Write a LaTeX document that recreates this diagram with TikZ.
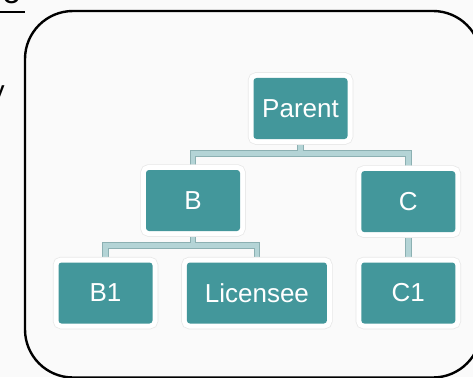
\documentclass[tikz,border=0pt]{standalone}
\usepackage{fontspec}
\setmainfont{Liberation Sans}
\usetikzlibrary{positioning,backgrounds}

\definecolor{boxteal}{RGB}{67,151,155}
\definecolor{linkfill}{RGB}{180,212,214}
\definecolor{linkedge}{RGB}{140,176,178}
\definecolor{paper}{RGB}{250,250,250}

\begin{document}
\begin{tikzpicture}[
    x=1pt,y=-1pt,
    node distance=30pt and 34pt,
    unit/.style={fill=boxteal,text=white,rounded corners=3pt,
      minimum width=94pt,minimum height=61pt,inner sep=0pt,
      font=\fontsize{26}{30}\selectfont,
      preaction={draw=black!9,line width=11.5pt},
      preaction={draw=white,line width=10pt}},
    linkrim/.style={draw=linkedge,line width=6.5pt},
    link/.style={draw=linkfill,line width=4.5pt},
    frame/.style={rounded corners=48pt,line width=2.4pt}]
  \useasboundingbox (0,0) rectangle (473,377);
  \clip (0,0) rectangle (473,377);

  % the tree
  \node[unit] (parent) at (300.5,108.5) {Parent};
  \node[unit] (b) at (193,200.5) {B};
  \node[unit] (b1) at (105.5,293) {B1};
  \node[unit,right=of b1,minimum width=140pt] (lic) {Licensee};
  \node[unit,right=of lic] (c1) {C1};
  \node[unit,above=of c1] (c) {C};

  % bits of slide text cut off at the left
  \node[anchor=base east,inner sep=0pt,font=\fontsize{34}{40}\selectfont] (topword) at (21.2,3.5) {o};
  \draw[line width=2.5pt] ([xshift=-10pt,yshift=-8.5pt]topword.base west) -- ([xshift=3.8pt,yshift=-8.5pt]topword.base east);
  \node[anchor=base east,inner sep=0pt,font=\fontsize{28}{34}\selectfont] (sideword) at (4.8,100.5) {y};

  \draw[frame] (25,11) rectangle (481,377.5);

  \begin{pgfonlayer}{background}
    \fill[paper] (0,0) rectangle (473,377);
    \foreach \pass in {linkrim,link} {
      \draw[\pass] (parent.south) -- ++(0,14.5) -| (b.north);
      \draw[\pass] (parent.south) -- ++(0,14.5) -| (c.north);
      \draw[\pass] (b.south) -- ++(0,14.5) -| (b1.north);
      \draw[\pass] (b.south) -- ++(0,14.5) -| (lic.north);
      \draw[\pass] (c) -- (c1);
    }
  \end{pgfonlayer}
\end{tikzpicture}
\end{document}
